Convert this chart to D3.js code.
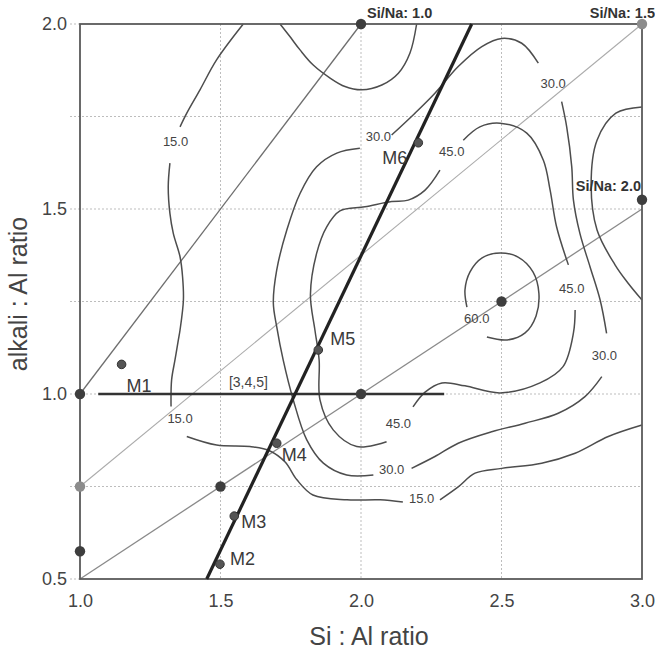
<!DOCTYPE html>
<html><head><meta charset="utf-8">
<script src="https://cdn.jsdelivr.net/npm/d3@7"></script>
<style>
html,body{margin:0;padding:0;background:#fff;}
svg{display:block;font-family:"Liberation Sans",Arial,Helvetica,sans-serif;}
</style></head>
<body>
<svg id="chart" width="655" height="652"></svg>
<script>
// ---------------- data ----------------
const xTicks = [1.0, 1.5, 2.0, 2.5, 3.0];
const yTicks = [0.5, 1.0, 1.5, 2.0];
const xGrid = [1.5, 2.0, 2.5];
const yGrid = [0.75, 1.0, 1.25, 1.5, 1.75];
const yTickMarks = [0.5, 0.75, 1.0, 1.25, 1.5, 1.75, 2.0];

const xTitle = "Si : Al ratio";
const yTitle = "alkali : Al ratio";

// Si/Na reference lines
const siNaRatios = ["1.0", "1.5", "2.0"];
const siNaStart = [[1.0, 1.0], [1.0, 0.75], [1.0, 0.5]];
const siNaEnd = [[2.0, 2.0], [3.0, 2.0], [3.0, 1.5]];
const siNaLabelPoints = [[2.0, 2.0], [3.0, 2.0], [3.0, 1.525]];

// reference points
const darkPointsX = [1.0, 1.0, 1.5, 2.0, 2.5, 2.0, 3.0];
const darkPointsY = [1.0, 0.575, 0.75, 1.0, 1.25, 2.0, 1.525];
const lightPointsX = [1.0, 3.0];
const lightPointsY = [0.75, 2.0];

// samples
const sampleNames = ["M1", "M2", "M3", "M4", "M5", "M6"];
const sampleX = [1.148, 1.498, 1.549, 1.700, 1.848, 2.204];
const sampleY = [1.080, 0.540, 0.670, 0.867, 1.119, 1.679];

// thick trend line and [3,4,5] line
const trendLine = [[1.451, 0.5], [2.394, 2.0]];
const seriesLine = [[1.065, 1.0], [2.296, 1.0]];
const seriesLabel = {text: "[3,4,5]", x: 1.53, y: 1.02};

// contour segments (data units)
const contour15 = [
  [[1.581,2.0],[1.486,1.903],[1.427,1.822],[1.380,1.759],[1.356,1.722]],
  [[1.320,1.624],[1.314,1.560],[1.320,1.488],[1.332,1.434],[1.356,1.371],[1.365,1.317],[1.368,1.254],[1.356,1.173],[1.350,1.146],[1.338,1.092],[1.326,1.038],[1.324,0.966]],
  [[1.380,0.885],[1.486,0.862],[1.605,0.858],[1.676,0.846],[1.730,0.816],[1.772,0.768],[1.829,0.727],[1.950,0.714],[2.068,0.714],[2.149,0.708]],
  [[2.281,0.714],[2.346,0.749],[2.406,0.786],[2.501,0.799],[2.643,0.813],[2.762,0.840],[2.880,0.885],[3.0,0.916]]
];
const contourTopU = [
  [[1.712,2.0],[1.747,1.966],[1.783,1.930],[1.830,1.889],[1.890,1.854],[1.943,1.831],[2.002,1.822],[2.074,1.835],[2.133,1.867],[2.174,1.921],[2.198,2.0]]
];
const contourRightC = [
  [[3.0,1.776],[2.907,1.759],[2.840,1.686],[2.819,1.565],[2.840,1.443],[2.904,1.349],[2.950,1.300],[3.0,1.254]]
];
const contour30 = [
  [[2.109,1.700],[2.192,1.759],[2.263,1.813],[2.346,1.885],[2.430,1.939],[2.501,1.961],[2.572,1.948],[2.631,1.894]],
  [[2.714,1.790],[2.732,1.722],[2.750,1.614],[2.756,1.524],[2.779,1.434],[2.815,1.344],[2.851,1.254],[2.874,1.164]],
  [[2.857,1.047],[2.797,0.993],[2.702,0.948],[2.584,0.921],[2.465,0.898],[2.346,0.867],[2.263,0.831],[2.180,0.799]],
  [[2.044,0.781],[1.949,0.781],[1.866,0.813],[1.807,0.876],[1.759,0.984],[1.723,1.092],[1.700,1.182],[1.688,1.246],[1.700,1.335],[1.736,1.443],[1.783,1.542],[1.842,1.614],[1.914,1.651],[1.996,1.664]]
];
const contour45 = [
  [[2.091,0.871],[1.985,0.858],[1.901,0.903],[1.854,0.984],[1.851,1.092],[1.836,1.173],[1.820,1.268],[1.842,1.380],[1.878,1.452],[1.925,1.495],[2.014,1.506],[2.109,1.520],[2.168,1.524],[2.228,1.551],[2.281,1.605]],
  [[2.364,1.686],[2.423,1.722],[2.495,1.732],[2.590,1.705],[2.649,1.632],[2.673,1.551],[2.696,1.452],[2.738,1.349]],
  [[2.762,1.227],[2.756,1.165],[2.719,1.074],[2.637,1.030],[2.495,1.003],[2.370,1.022],[2.288,1.030],[2.228,1.005],[2.185,0.965]]
];
const contour60 = [
  [[2.448,1.154],[2.520,1.146],[2.584,1.165],[2.623,1.211],[2.633,1.273],[2.612,1.330],[2.559,1.370],[2.495,1.381],[2.431,1.368],[2.388,1.330],[2.370,1.281],[2.377,1.235]]
];
const contourLabelText = ["15.0","15.0","15.0","30.0","30.0","30.0","30.0","45.0","45.0","45.0","60.0"];
const contourLabelX = [1.340, 1.356, 2.216, 2.062, 2.684, 2.866, 2.109, 2.323, 2.750, 2.133, 2.412];
const contourLabelY = [1.682, 0.934, 0.718, 1.695, 1.840, 1.105, 0.796, 1.655, 1.286, 0.921, 1.205];

// ---------------- drawing ----------------
const W = 655, H = 652;
const pL = 80, pR = 642, pT = 24, pB = 579;
const x = d3.scaleLinear().domain([1, 3]).range([pL, pR]);
const y = d3.scaleLinear().domain([0.5, 2]).range([pB, pT]);
const svg = d3.select("#chart");

// grid
svg.append("g").selectAll("line").data(yTickMarks).join("line")
  .attr("x1", pL - 10).attr("x2", d => (d === 0.5 || d === 2.0) ? pL : pR)
  .attr("y1", d => y(d)).attr("y2", d => y(d))
  .attr("stroke", "#bdbdbd").attr("stroke-width", 1).attr("stroke-dasharray", "2,2");
svg.append("g").selectAll("line").data(xGrid).join("line")
  .attr("x1", d => x(d)).attr("x2", d => x(d))
  .attr("y1", pT).attr("y2", pB)
  .attr("stroke", "#bdbdbd").attr("stroke-width", 1).attr("stroke-dasharray", "2,2");

// axes labels
const yAxis = d3.axisLeft(y).tickValues(yTicks).tickFormat(d3.format(".1f")).tickSize(0).tickPadding(13);
const gy = svg.append("g").attr("transform", `translate(${pL},0)`).call(yAxis);
gy.select(".domain").remove();
gy.selectAll("text").attr("font-size", 18).attr("fill", "#444").attr("font-family", "Liberation Sans, Arial, sans-serif");

const xAxis = d3.axisBottom(x).tickValues(xTicks).tickFormat(d3.format(".1f")).tickSize(0).tickPadding(15);
const gx = svg.append("g").attr("transform", `translate(0,${pB})`).call(xAxis);
gx.select(".domain").remove();
gx.selectAll("text").attr("font-size", 18).attr("fill", "#444").attr("font-family", "Liberation Sans, Arial, sans-serif");

svg.append("text").attr("x", 369).attr("y", 645).attr("text-anchor", "middle")
  .attr("font-size", 25).attr("fill", "#444").text(xTitle);
svg.append("text").attr("transform", `translate(27,${294}) rotate(-90)`).attr("text-anchor", "middle")
  .attr("font-size", 25).attr("fill", "#444").text(yTitle);

// Si/Na lines
const lineTone = ["#6e6e6e", "#ababab", "#8a8a8a"];
const lineW = [1.3, 1.1, 1.3];
siNaRatios.forEach((r, i) => {
  svg.append("line")
    .attr("x1", x(siNaStart[i][0])).attr("y1", y(siNaStart[i][1]))
    .attr("x2", x(siNaEnd[i][0])).attr("y2", y(siNaEnd[i][1]))
    .attr("stroke", lineTone[i]).attr("stroke-width", lineW[i]);
});

// contours
const lineGen = d3.line().x(d => x(d[0])).y(d => y(d[1])).curve(d3.curveCatmullRom.alpha(0.5));
const allContours = [].concat(contour15, contourTopU, contourRightC, contour30, contour45, contour60);
svg.append("g").selectAll("path").data(allContours).join("path")
  .attr("d", lineGen).attr("fill", "none").attr("stroke", "#4d4d4d").attr("stroke-width", 1.5);
svg.append("g").selectAll("text").data(contourLabelText).join("text")
  .attr("x", (d, i) => x(contourLabelX[i])).attr("y", (d, i) => y(contourLabelY[i]))
  .attr("text-anchor", "middle").attr("dominant-baseline", "central")
  .attr("font-size", 13).attr("fill", "#444").text(d => d);

// frame
svg.append("rect").attr("x", pL).attr("y", pT).attr("width", pR - pL).attr("height", pB - pT)
  .attr("fill", "none").attr("stroke", "#5a5a5a").attr("stroke-width", 1.8);

// [3,4,5] line
svg.append("line")
  .attr("x1", x(seriesLine[0][0])).attr("y1", y(seriesLine[0][1]))
  .attr("x2", x(seriesLine[1][0])).attr("y2", y(seriesLine[1][1]))
  .attr("stroke", "#333").attr("stroke-width", 2.6);
svg.append("text").attr("x", x(seriesLabel.x)).attr("y", y(seriesLabel.y))
  .attr("font-size", 14).attr("fill", "#444").text(seriesLabel.text);

// trend line
svg.append("line")
  .attr("x1", x(trendLine[0][0])).attr("y1", y(trendLine[0][1]))
  .attr("x2", x(trendLine[1][0])).attr("y2", y(trendLine[1][1]))
  .attr("stroke", "#222").attr("stroke-width", 3.2);

// points
svg.append("g").selectAll("circle").data(darkPointsX).join("circle")
  .attr("cx", d => x(d)).attr("cy", (d, i) => y(darkPointsY[i])).attr("r", 5.2)
  .attr("fill", "#3e3e3e");
svg.append("g").selectAll("circle").data(lightPointsX).join("circle")
  .attr("cx", d => x(d)).attr("cy", (d, i) => y(lightPointsY[i])).attr("r", 5.2)
  .attr("fill", "#8c8c8c");

// Si/Na labels
const siNaLabelOffset = [[6, -6, "start"], [13, -6, "end"], [-1, -9, "end"]];
siNaRatios.forEach((r, i) => {
  const o = siNaLabelOffset[i];
  svg.append("text").attr("x", x(siNaLabelPoints[i][0]) + o[0]).attr("y", y(siNaLabelPoints[i][1]) + o[1])
    .attr("text-anchor", o[2]).attr("font-size", 14.5).attr("font-weight", "bold").attr("fill", "#333")
    .text("Si/Na: " + r);
});

// samples
svg.append("g").selectAll("circle").data(sampleNames).join("circle")
  .attr("cx", (d, i) => x(sampleX[i])).attr("cy", (d, i) => y(sampleY[i])).attr("r", 4.3)
  .attr("fill", "#555").attr("stroke", "#333").attr("stroke-width", 1);
const sampleOffset = {M1: [5, 28, "start"], M2: [10, 1, "start"], M3: [7, 12, "start"],
  M4: [5, 18, "start"], M5: [12, -5, "start"], M6: [-11, 21, "end"]};
svg.append("g").selectAll("text").data(sampleNames).join("text")
  .attr("x", (d, i) => x(sampleX[i]) + sampleOffset[d][0])
  .attr("y", (d, i) => y(sampleY[i]) + sampleOffset[d][1])
  .attr("text-anchor", d => sampleOffset[d][2])
  .attr("font-size", 18).attr("fill", "#3a3a3a").text(d => d);
</script>
</body></html>
